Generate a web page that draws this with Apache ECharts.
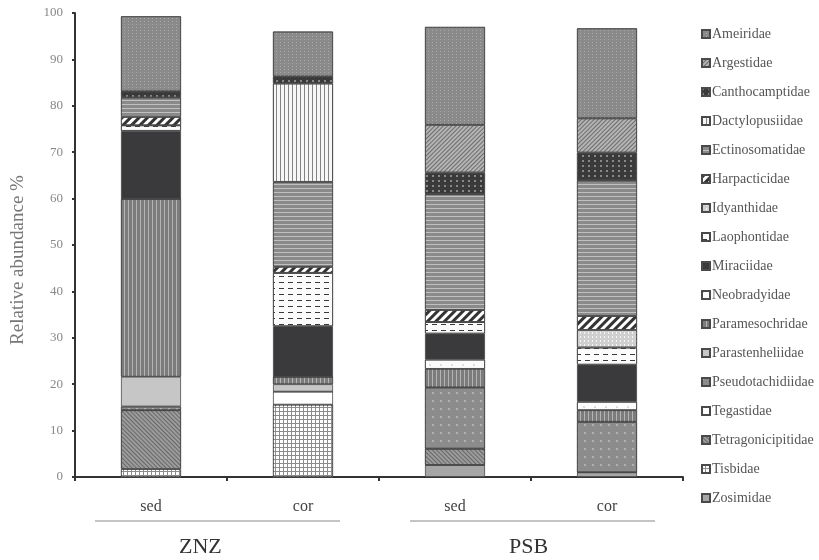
<!DOCTYPE html>
<html>
<head>
<meta charset="utf-8">
<script src="https://cdn.jsdelivr.net/npm/echarts@6/dist/echarts.min.js"></script>
<style>html,body{margin:0;padding:0;background:#fff;}#c{width:819px;height:560px;}</style>
</head>
<body>
<div id="c"></div>
<script>
// ---- data ----
const categories = ['sed', 'cor', 'sed', 'cor'];
const groups = ['ZNZ', 'PSB'];
const yTicks = [0, 10, 20, 30, 40, 50, 60, 70, 80, 90, 100];

// stacking order, bottom -> top
const Zosimidae          = [0,    0,    2.6,  1.0];
const Tisbidae           = [1.7,  15.6, 0,    0];
const Tetragonicipitidae = [12.7, 0,    3.5,  0];
const Tegastidae         = [0,    2.8,  0,    0];
const Pseudotachidiidae  = [0.8,  0,    13.2, 10.9];
const Parastenheliidae   = [6.4,  1.6,  0,    0];
const Paramesochridae    = [38.3, 1.6,  4.0,  2.5];
const Neobradyidae       = [0,    0,    2.0,  1.8];
const Miraciidae         = [14.7, 10.9, 5.6,  8.0];
const Laophontidae       = [1.2,  11.5, 2.5,  3.7];
const Idyanthidae        = [0,    0,    0,    3.8];
const Harpacticidae      = [1.8,  1.3,  2.6,  3.0];
const Ectinosomatidae    = [4.2,  18.3, 25.0, 29.2];
const Dactylopusiidae    = [0,    21.2, 0,    0];
const Canthocamptidae    = [1.3,  1.5,  4.6,  6.0];
const Argestidae         = [0,    0,    10.3, 7.4];
const Ameiridae          = [16.2, 9.7,  21.1, 19.4];

const seriesData = {
  Zosimidae, Tisbidae, Tetragonicipitidae, Tegastidae, Pseudotachidiidae,
  Parastenheliidae, Paramesochridae, Neobradyidae, Miraciidae, Laophontidae,
  Idyanthidae, Harpacticidae, Ectinosomatidae, Dactylopusiidae, Canthocamptidae,
  Argestidae, Ameiridae
};
const stackOrder = Object.keys(seriesData);
const legendOrder = stackOrder.slice().reverse();

// ---- styles ----
const PI = Math.PI;
const styles = {
  Ameiridae: {color: '#8a8a8a', decal: {symbol: 'rect', symbolSize: 1, color: 'rgba(255,255,255,0.28)', dashArrayX: [[1, 3]], dashArrayY: [1, 2]}},
  Argestidae: {color: '#b4b4b4', decal: {symbol: 'rect', symbolSize: 1, color: 'rgba(70,70,70,0.65)', dashArrayX: [1, 0], dashArrayY: [1, 2], rotation: -PI / 4}},
  Canthocamptidae: {color: '#3a3a3a', decal: {symbol: 'rect', symbolSize: 1, color: 'rgba(170,170,170,0.7)', dashArrayX: [[2, 4]], dashArrayY: [2, 3]}},
  Dactylopusiidae: {color: '#f6f6f6', decal: {symbol: 'rect', symbolSize: 1, color: 'rgba(110,110,110,0.85)', dashArrayX: [[1, 3]], dashArrayY: [1, 0]}},
  Ectinosomatidae: {color: '#8a8a8a', decal: {symbol: 'rect', symbolSize: 1, color: 'rgba(215,215,215,0.7)', dashArrayX: [1, 0], dashArrayY: [1, 3]}},
  Harpacticidae: {color: '#ffffff', decal: {symbol: 'rect', symbolSize: 1, color: '#333333', dashArrayX: [1, 0], dashArrayY: [3, 3], rotation: -PI / 4}},
  Idyanthidae: {color: '#cfcfcf', decal: {symbol: 'rect', symbolSize: 1, color: 'rgba(255,255,255,0.8)', dashArrayX: [[1, 3]], dashArrayY: [2, 2]}},
  Laophontidae: {color: '#fbfbfb', decal: {symbol: 'rect', symbolSize: 1, color: '#3a3a3a', dashArrayX: [[5, 4]], dashArrayY: [1, 5]}},
  Miraciidae: {color: '#3a3a3c'},
  Neobradyidae: {color: '#fbfbfb', decal: {symbol: 'circle', symbolSize: 0.6, color: '#777777', dashArrayX: [[2, 9]], dashArrayY: [2, 5]}},
  Paramesochridae: {color: '#7c7c7c', decal: {symbol: 'rect', symbolSize: 1, color: 'rgba(210,210,210,0.65)', dashArrayX: [[1, 3]], dashArrayY: [1, 0]}},
  Parastenheliidae: {color: '#c6c6c6'},
  Pseudotachidiidae: {color: '#8c8c8c', decal: {symbol: 'circle', symbolSize: 0.8, color: 'rgba(235,235,235,0.85)', dashArrayX: [[2, 6]], dashArrayY: [2, 6]}},
  Tegastidae: {color: '#ffffff'},
  Tetragonicipitidae: {color: '#9c9c9c', decal: {symbol: 'rect', symbolSize: 1, color: 'rgba(60,60,60,0.55)', dashArrayX: [1, 0], dashArrayY: [1, 2], rotation: PI / 4}},
  Tisbidae: {color: '#8c8c8c', decal: {symbol: 'rect', symbolSize: 1, color: '#ffffff', dashArrayX: [[3, 1]], dashArrayY: [3, 1]}},
  Zosimidae: {color: '#a6a6a6'}
};

const FONT = 'Liberation Serif';
const chart = echarts.init(document.getElementById('c'), null, {renderer: 'canvas'});

const series = stackOrder.map(name => ({
  name: name,
  type: 'bar',
  stack: 'total',
  barWidth: 60,
  data: seriesData[name],
  itemStyle: Object.assign({borderColor: '#4a4a4a', borderWidth: 0.8}, styles[name]),
  emphasis: {disabled: true}
}));

const option = {
  animation: false,
  backgroundColor: '#ffffff',
  grid: {left: 75, right: 136, top: 13, bottom: 83, containLabel: false},
  legend: {
    orient: 'vertical',
    left: 696,
    top: 22,
    data: legendOrder,
    icon: 'rect',
    itemWidth: 8,
    itemHeight: 8,
    itemGap: 15,
    textStyle: {fontFamily: FONT, fontSize: 14, color: '#555555', padding: [0, 0, 0, -3]},
    selectedMode: false
  },
  xAxis: {
    type: 'category',
    data: categories,
    axisLine: {lineStyle: {color: '#333333', width: 2}},
    axisTick: {show: true, length: 4, lineStyle: {color: '#333333', width: 2}},
    axisLabel: {fontFamily: FONT, fontSize: 16, color: '#444444', margin: 22}
  },
  yAxis: {
    type: 'value',
    min: yTicks[0],
    max: yTicks[yTicks.length - 1],
    interval: 10,
    name: 'Relative abundance %',
    nameLocation: 'middle',
    nameGap: 47,
    nameTextStyle: {fontFamily: FONT, fontSize: 19, color: '#777777', padding: [0, 30, 0, 0]},
    axisLine: {show: true, lineStyle: {color: '#333333', width: 2}},
    axisTick: {show: true, length: 3, lineStyle: {color: '#333333', width: 2}},
    splitLine: {show: false},
    axisLabel: {fontFamily: FONT, fontSize: 13, color: '#888888', margin: 12}
  },
  graphic: [
    {type: 'line', shape: {x1: 95, y1: 521, x2: 340, y2: 521}, style: {stroke: '#888888', lineWidth: 1}},
    {type: 'line', shape: {x1: 410, y1: 521, x2: 655, y2: 521}, style: {stroke: '#888888', lineWidth: 1}},
    {type: 'text', left: 179, top: 536, style: {text: groups[0], fontFamily: FONT, fontSize: 22, fill: '#333333'}},
    {type: 'text', left: 509, top: 536, style: {text: groups[1], fontFamily: FONT, fontSize: 22, fill: '#333333'}}
  ],
  series: series
};
chart.setOption(option);
</script>
</body>
</html>
